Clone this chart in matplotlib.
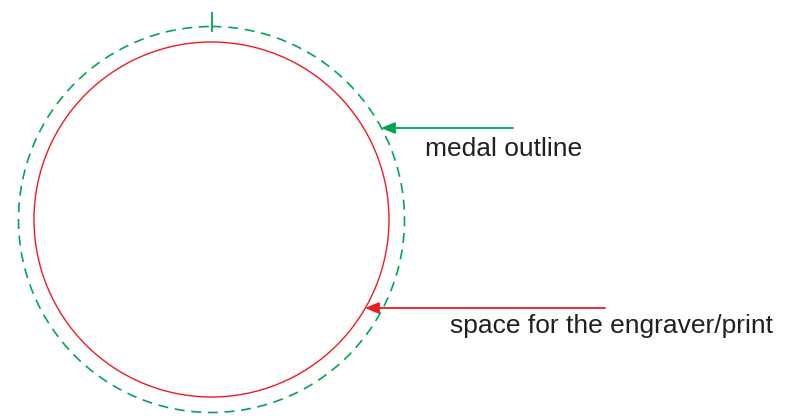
import matplotlib
matplotlib.use("Agg")
import matplotlib.pyplot as plt
from matplotlib.patches import Circle

# geometry in pixel units of the 790x416 canvas
centre = (211.5, 219.5)
outline_radius = 193.0
print_radius = 177.5
top_mark = [(211.5, 13), (211.5, 31)]

labels = ["medal outline", "space for the engraver/print"]
arrow_tails = [(513, 128), (605, 308)]
arrow_heads = [(381, 128), (365, 308)]
label_pos = [(425, 156), (450, 333)]

green = "#00a651"
red = "#ed1c24"
text_col = "#231f20"

fig = plt.figure(figsize=(7.9, 4.16), dpi=100)
ax = fig.add_axes([0, 0, 1, 1])
ax.set_xlim(0, 790)
ax.set_ylim(416, 0)
ax.set_aspect("equal")
ax.axis("off")

# medal outline (dashed) and printable area
ax.add_patch(Circle(centre, outline_radius, fill=False, edgecolor=green,
                    linewidth=1.2, linestyle=(0, (6, 4))))
ax.add_patch(Circle(centre, print_radius, fill=False, edgecolor=red, linewidth=1.0))
ax.plot([p[0] for p in top_mark], [p[1] for p in top_mark], color=green, linewidth=1.3)

colors = [green, red]
for lab, tail, head, pos, c in zip(labels, arrow_tails, arrow_heads, label_pos, colors):
    ax.annotate("", xy=head, xytext=tail,
                arrowprops=dict(arrowstyle="-|>,head_length=0.6,head_width=0.25",
                                color=c, linewidth=1.3, mutation_scale=14,
                                shrinkA=0, shrinkB=0))
    ax.text(pos[0], pos[1], lab, fontsize=19, family="Liberation Sans",
            color=text_col, ha="left", va="baseline")

fig.savefig("out.png", dpi=100)
